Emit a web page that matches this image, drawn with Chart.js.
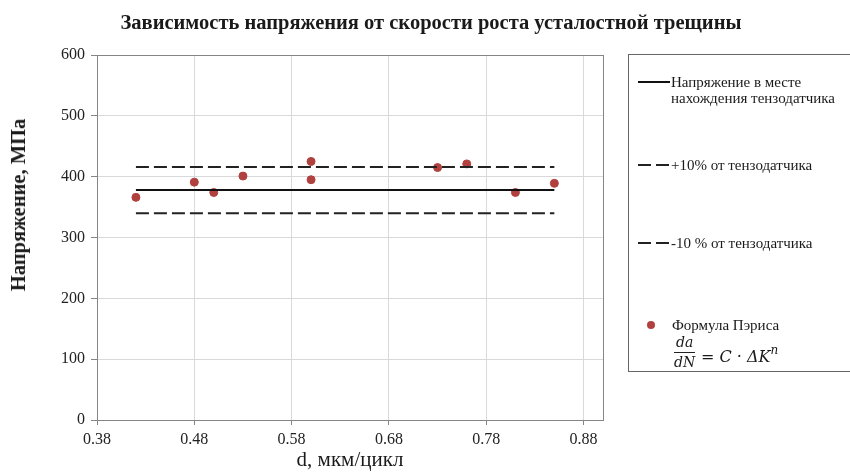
<!DOCTYPE html>
<html>
<head>
<meta charset="utf-8">
<script src="https://cdn.jsdelivr.net/npm/chart.js@4/dist/chart.umd.min.js"></script>
<style>
  html, body { margin: 0; padding: 0; background: #fff; overflow: hidden; }
  #wrap { position: relative; width: 850px; height: 473px; overflow: hidden; font-family: "Liberation Serif", "Times New Roman", serif; color: #1a1a1a; }
  #c { position: absolute; left: 0; top: 0; }
  .abs { position: absolute; white-space: nowrap; }
  #title { left: 0; width: 862px; top: 9px; text-align: center; font-weight: bold; font-size: 20.5px; line-height: 26px; }
  #ytitle { left: 18px; top: 205px; font-weight: bold; font-size: 20.5px; line-height: 24px; transform: translate(-50%, -50%) rotate(-90deg); }
  #legend { left: 628px; top: 54px; width: 240px; height: 318px; border: 1px solid #666; box-sizing: border-box; }
  .lt { font-size: 15px; line-height: 16px; }
  .frac { font-style: italic; font-family: "DejaVu Serif", serif; font-size: 14px; }
</style>
</head>
<body>
<div id="wrap">
  <canvas id="c" width="850" height="473"></canvas>
  <div id="title" class="abs">Зависимость напряжения от скорости роста усталостной трещины</div>
  <div id="ytitle" class="abs">Напряжение, МПа</div>
  <div id="legend" class="abs"></div>
  <svg class="abs" style="left:0;top:0" width="850" height="473">
    <line x1="638" y1="82" x2="670" y2="82" stroke="#111" stroke-width="2"/>
    <line x1="638" y1="165" x2="670" y2="165" stroke="#222" stroke-width="2" stroke-dasharray="13,5"/>
    <line x1="638" y1="243" x2="670" y2="243" stroke="#222" stroke-width="2" stroke-dasharray="13,5"/>
    <circle cx="651" cy="325" r="4" fill="#b0413e"/>
  </svg>
  <div class="abs lt" style="left:671px;top:74px">Напряжение в месте<br>нахождения тензодатчика</div>
  <div class="abs lt" style="left:671px;top:157px">+10% от тензодатчика</div>
  <div class="abs lt" style="left:671px;top:235px">-10 % от тензодатчика</div>
  <div class="abs lt" style="left:672px;top:317px">Формула Пэриса</div>
  <div class="abs frac" style="left:674px;top:333px;text-align:center;line-height:19px">
    <div style="border-bottom:1px solid #222;padding:0 1px">da</div>
    <div>dN</div>
  </div>
  <div class="abs frac" style="left:701px;top:345px;font-size:16px">= C · ΔK<sup style="font-size:12px;position:relative;top:-2px">n</sup></div>
</div>
<script>
// ---- data ----
const xTicks = [0.38, 0.48, 0.58, 0.68, 0.78, 0.88];
const yTicks = [0, 100, 200, 300, 400, 500, 600];
const parisX = [0.42, 0.48, 0.50, 0.53, 0.60, 0.60, 0.73, 0.76, 0.81, 0.85];
const parisY = [366, 391, 374, 401, 425, 395, 415, 421, 374, 389];
const lineX = [0.42, 0.85];
const gaugeStress = [378, 378];
const plus10 = [416, 416];
const minus10 = [340, 340];

const pts = (xs, ys) => xs.map((x, i) => ({ x: x, y: ys[i] }));

const framePlugin = {
  id: 'frame',
  beforeDatasetsDraw(chart) {
    const { ctx, chartArea: a } = chart;
    ctx.save();
    ctx.strokeStyle = '#868686';
    ctx.lineWidth = 1;
    ctx.strokeRect(Math.round(a.left) + 0.5, Math.round(a.top) + 0.5, Math.round(a.right - a.left), Math.round(a.bottom - a.top));
    ctx.restore();
  }
};

const tickFont = { family: '"Liberation Serif", serif', size: 16 };

new Chart(document.getElementById('c'), {
  type: 'scatter',
  data: {
    datasets: [
      { type: 'line', label: 'Напряжение в месте нахождения тензодатчика', data: pts(lineX, gaugeStress),
        borderColor: '#111', borderWidth: 2, pointRadius: 0, showLine: true },
      { type: 'line', label: '+10% от тензодатчика', data: pts(lineX, plus10),
        borderColor: '#222', borderWidth: 2, borderDash: [13, 5], pointRadius: 0, showLine: true },
      { type: 'line', label: '-10 % от тензодатчика', data: pts(lineX, minus10),
        borderColor: '#222', borderWidth: 2, borderDash: [13, 5], pointRadius: 0, showLine: true },
      { label: 'Формула Пэриса', data: pts(parisX, parisY),
        backgroundColor: '#b0413e', borderColor: '#b0413e', pointRadius: 4, pointHoverRadius: 4 }
    ]
  },
  options: {
    responsive: false,
    animation: false,
    devicePixelRatio: 1,
    layout: { padding: { top: 55, right: 247, left: 0, bottom: 0 } },
    plugins: { legend: { display: false }, title: { display: false }, tooltip: { enabled: false } },
    scales: {
      x: {
        type: 'linear', min: 0.38, max: 0.9,
        afterFit: s => { s.height = 53; },
        afterBuildTicks: s => { s.ticks = xTicks.map(v => ({ value: v })); },
        ticks: { font: tickFont, color: '#222', padding: 5, maxRotation: 0, autoSkip: false,
                 callback: v => Number(v).toFixed(2) },
        grid: { color: '#d9d9d9', tickLength: 5, tickColor: '#868686' },
        border: { color: '#868686' },
        title: { display: true, text: 'd, мкм/цикл', color: '#1a1a1a',
                 font: { family: '"Liberation Serif", serif', size: 21 }, padding: { top: 0, bottom: 0 } }
      },
      y: {
        type: 'linear', min: 0, max: 600,
        afterFit: s => { s.width = 97; },
        afterBuildTicks: s => { s.ticks = yTicks.map(v => ({ value: v })); },
        ticks: { font: tickFont, color: '#222', padding: 6 },
        grid: { color: '#d9d9d9', tickLength: 6, tickColor: '#868686' },
        border: { color: '#868686' }
      }
    }
  },
  plugins: [framePlugin]
});
</script>
</body>
</html>
